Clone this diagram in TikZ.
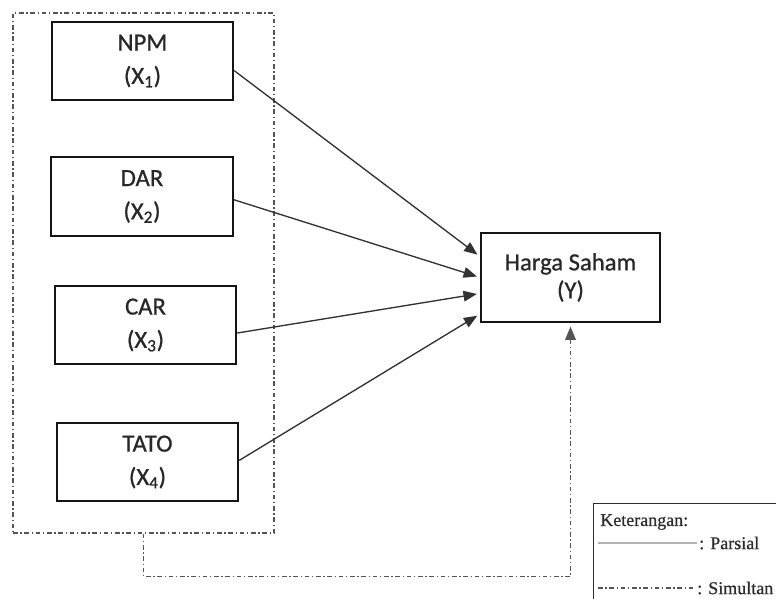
\documentclass[tikz,border=0pt]{standalone}
\usepackage{fontspec}
\setmainfont{Liberation Serif}[FakeBold=0.6]
\newfontfamily\boxfont{Carlito}[FakeBold=0.8]
\usetikzlibrary{arrows.meta,positioning}
\definecolor{boxline}{RGB}{20,20,20}
\definecolor{boxtext}{RGB}{40,40,40}
\definecolor{arrowcolor}{RGB}{50,50,50}
\definecolor{dashcolor}{RGB}{85,85,85}
\definecolor{legcolor}{RGB}{45,45,45}

\begin{document}
\begin{tikzpicture}[
    x=0.75pt, y=-0.75pt,
    var/.style={rectangle, draw=boxline, line width=1.6pt, minimum width=136pt, minimum height=59pt, inner sep=0pt, align=center, text=boxtext, font=\boxfont\fontsize{18.5}{25}\selectfont},
    dep/.style={var, minimum width=134pt, minimum height=67pt, font=\boxfont\fontsize{18.5}{21}\selectfont},
    frame/.style={rectangle, draw=dashcolor, line width=1pt, dash pattern=on 3.5pt off 2pt on 1pt off 2pt, minimum width=195.75pt, minimum height=390pt},
    arrow/.style={-{Triangle[length=10pt,width=8pt]}, draw=arrowcolor, line width=1pt, shorten >=2.5pt},
    simul/.style={-{Triangle[length=10pt,width=8pt]}, draw=dashcolor, line width=1pt, dash pattern=on 3.5pt off 2pt on 1pt off 2pt, shorten >=2.5pt},
    legtext/.style={font=\fontsize{13.5}{15}\selectfont, text=legcolor, inner sep=1.5pt},
    partline/.style={draw=gray!60, line width=1.6pt}
]
\fill[white] (0,0) rectangle (776,599);
\useasboundingbox (0,0) rectangle (776,599);
\clip (0,0) rectangle (776,599);

% Independent variables
\node[frame] (group) at (143.5,273) {};
\node[var] (npm) at (142.5,61) {NPM\\(X\textsubscript{1})};
\node[var] (dar) at (142,196.5) {DAR\\(X\textsubscript{2})};
\node[var] (car) at (145.5,325) {CAR\\(X\textsubscript{3})};
\node[var] (tato) at (147.5,462) {TATO\\(X\textsubscript{4})};

% Dependent variable
\node[dep] (harga) at (570.5,277.5) {Harga Saham\\(Y)};

% Partial effects
\foreach \src/\from/\to in {npm/-6/167, dar/-2/180, car/-5/190, tato/1/202} {
    \draw[arrow] (\src.\from) -- (harga.\to);
}

% Simultaneous effect
\draw[simul] (group.south) -- ++(0,43) -| (harga.south);

% Legend
\node[rectangle, draw=legcolor, line width=0.8pt, minimum width=160pt, minimum height=95pt, anchor=north west] (legend) at (593,503) {};
\node[legtext, anchor=west] (ket) at (598,522) {Keterangan:};
\coordinate (pa) at (598,543);
\coordinate (pb) at (697,543);
\draw[partline] (pa) -- (pb);
\node[legtext, anchor=west] (parsial) at (pb) {: Parsial};
\coordinate (sa) at (598,588);
\coordinate (sb) at (695,588);
\draw[draw=dashcolor, line width=1pt, dash pattern=on 3.5pt off 2pt on 1pt off 2pt] (sa) -- (sb);
\node[legtext, anchor=west] (simultan) at (sb) {: Simultan};

\end{tikzpicture}
\end{document}
